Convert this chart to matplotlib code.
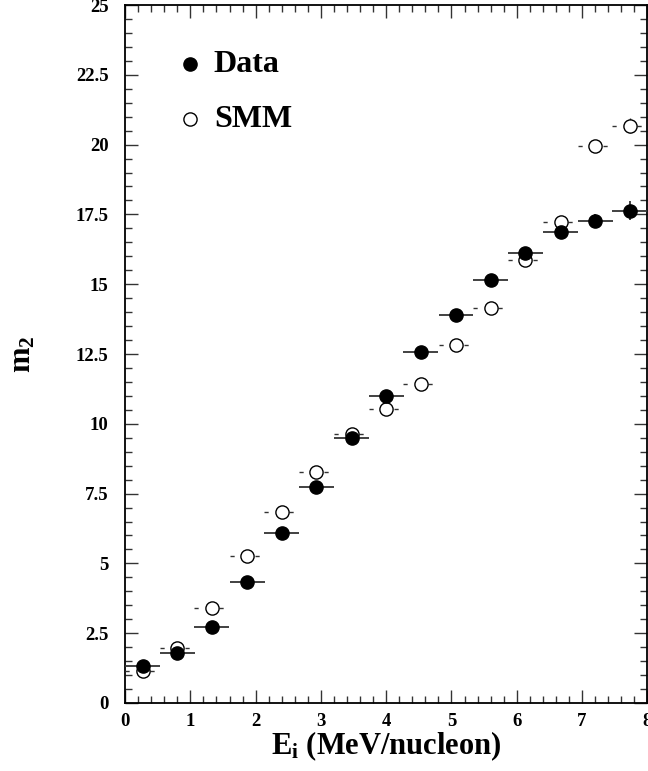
import matplotlib
matplotlib.use("Agg")
import matplotlib.pyplot as plt
from matplotlib.ticker import MultipleLocator, FixedFormatter, FixedLocator

plt.rcParams['font.family'] = ['Liberation Serif', 'DejaVu Serif']
plt.rcParams['font.weight'] = 'bold'
plt.rcParams['mathtext.fontset'] = 'custom'
plt.rcParams['mathtext.rm'] = 'Liberation Serif:bold'
plt.rcParams['mathtext.bf'] = 'Liberation Serif:bold'
plt.rcParams['mathtext.it'] = 'Liberation Serif:bold'

# bin centres (E_i, MeV/nucleon) and half-width of each bin
e_bins = [0.27, 0.80, 1.33, 1.87, 2.40, 2.93, 3.47, 4.00,
          4.53, 5.07, 5.60, 6.13, 6.67, 7.20, 7.73]
half_width = 0.267

data_m2 = [1.33, 1.78, 2.71, 4.32, 6.09, 7.74, 9.50, 11.00,
           12.57, 13.90, 15.15, 16.13, 16.86, 17.26, 17.63]
data_err = [0.10, 0.08, 0.08, 0.08, 0.10, 0.10, 0.10, 0.12,
            0.12, 0.12, 0.15, 0.20, 0.20, 0.25, 0.34]

smm_m2 = [1.16, 1.96, 3.41, 5.27, 6.84, 8.27, 9.62, 10.54,
          11.44, 12.82, 14.16, 15.87, 17.24, 19.95, 20.68]
smm_err = [0.05, 0.05, 0.05, 0.05, 0.05, 0.05, 0.05, 0.05,
           0.05, 0.05, 0.05, 0.10, 0.15, 0.20, 0.27]

y_ticks = [0, 2.5, 5, 7.5, 10, 12.5, 15, 17.5, 20, 22.5, 25]
y_labels = ['0', '2.5', '5', '7.5', '10', '12.5', '15', '17.5', '20', '22.5', '25']

fig = plt.figure(figsize=(6.48, 7.71), dpi=100)
ax = fig.add_axes([0.193, 0.0882, 0.806, 0.9053])

xerr = [half_width] * len(e_bins)

smm = ax.errorbar(e_bins, smm_m2, xerr=xerr, yerr=smm_err, fmt='o', ms=9.5,
                  mfc='white', mec='black', mew=1.0, ecolor='#333333',
                  elinewidth=1.0, capsize=0, zorder=3)
for line in smm[2]:
    line.set_linestyle((0, (3, 6)))

ax.errorbar(e_bins, data_m2, xerr=xerr, yerr=data_err, fmt='o', ms=9.5,
            mfc='black', mec='black', ecolor='#333333', elinewidth=1.3,
            capsize=0, zorder=4)

ax.set_xlim(0, 8)
ax.set_ylim(0, 25)

ax.xaxis.set_major_locator(MultipleLocator(1))
ax.xaxis.set_minor_locator(MultipleLocator(0.2))
ax.yaxis.set_major_locator(FixedLocator(y_ticks))
ax.yaxis.set_major_formatter(FixedFormatter(y_labels))
ax.yaxis.set_minor_locator(MultipleLocator(0.5))

ax.tick_params(which='both', direction='in', top=True, right=True,
               labelsize=13.5, width=1.0, color='#333333')
ax.tick_params(which='major', length=9.5)
ax.tick_params(which='minor', length=5)
ax.tick_params(axis='y', which='major', pad=12)
ax.tick_params(axis='x', which='major', pad=7)
for lab in ax.get_xticklabels() + ax.get_yticklabels():
    lab.set_fontweight('bold')
for sp in ax.spines.values():
    sp.set_linewidth(1.3)

ax.set_xlabel(r'E$_\mathbf{i}$ (MeV/nucleon)', fontsize=22, fontweight='bold',
              labelpad=0)
ax.set_ylabel(r'm$_\mathbf{2}$', fontsize=22, fontweight='bold', labelpad=27)

# legend drawn as markers + text in axes coordinates
ax.plot([0.125], [0.915], 'o', ms=9.5, mfc='black', mec='black',
        transform=ax.transAxes, clip_on=False)
ax.text(0.17, 0.915, 'Data', transform=ax.transAxes, fontsize=23,
        fontweight='bold', va='center')
ax.plot([0.125], [0.836], 'o', ms=9.5, mfc='white', mec='black', mew=1.0,
        transform=ax.transAxes, clip_on=False)
ax.text(0.17, 0.836, 'SMM', transform=ax.transAxes, fontsize=23,
        fontweight='bold', va='center')

fig.savefig('out.png', dpi=100)
